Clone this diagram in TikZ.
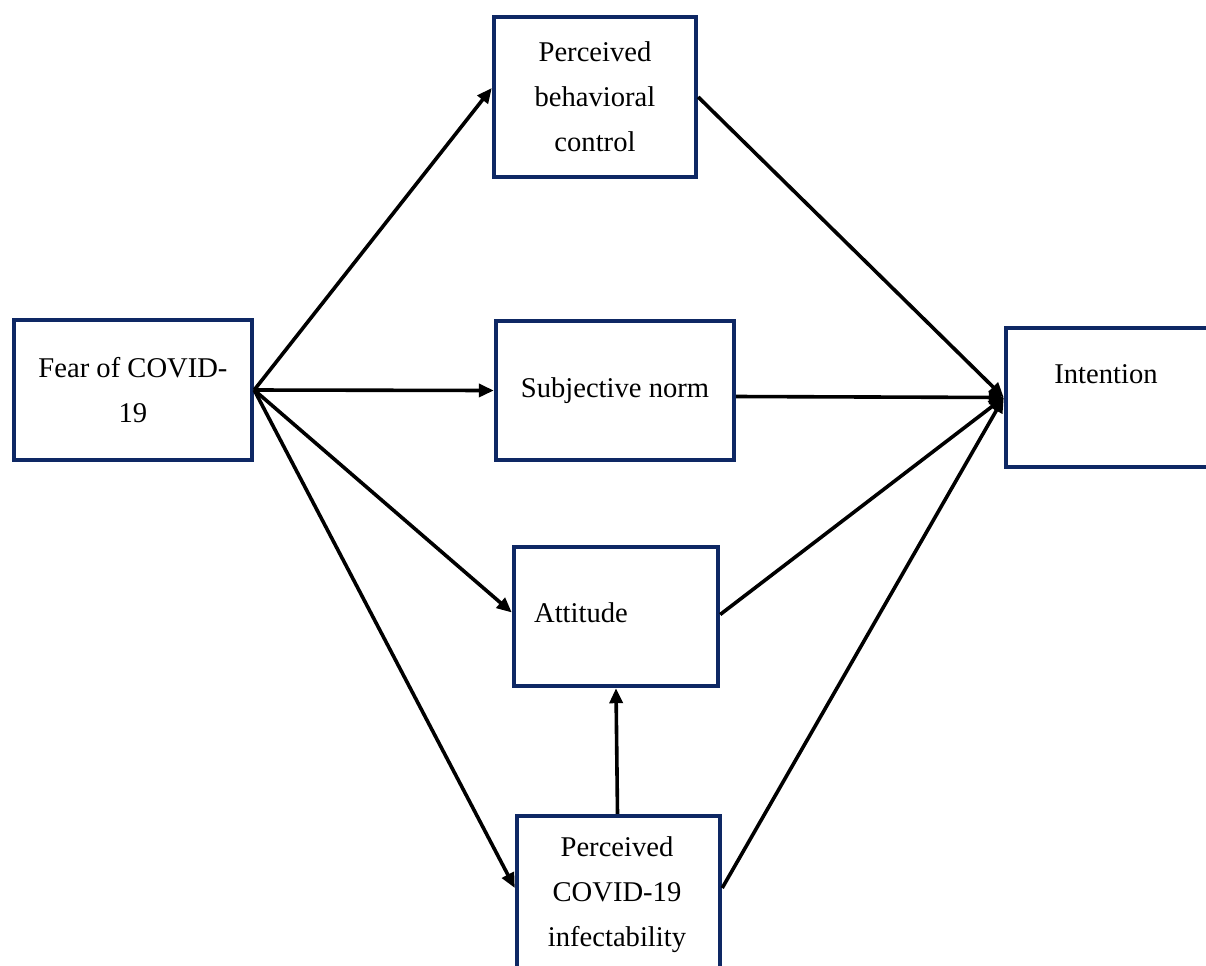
\documentclass[tikz,border=0pt]{standalone}
\usepackage{fontspec}
\setmainfont{Liberation Serif}
\usetikzlibrary{arrows.meta}
\definecolor{boxblue}{RGB}{14,40,100}
\begin{document}
\begin{tikzpicture}[x=0.5pt,y=-0.5pt,
  box/.style={draw=boxblue,line width=2.2pt,fill=white,inner sep=0pt,
    align=center,font=\fontsize{14.3}{22.5}\selectfont},
  lbl/.style={inner sep=0pt,align=center,font=\fontsize{14.3}{22.5}\selectfont},
  arr/.style={line width=1.8pt,-{Triangle[length=7.5pt,width=6.5pt]}},
  ln/.style={line width=1.8pt}]
\useasboundingbox (0,0) rectangle (1206,965);
\clip (0,0) rectangle (1206,965);
\fill[white] (0,0) rectangle (1206,965);
\node[box,minimum width=101pt,minimum height=80pt] (pbc) at (595,97) {Perceived\\behavioral\\control};
\node[box,minimum width=119pt,minimum height=70pt] (fear) at (133,390) {Fear of COVID-\\19};
\node[box,minimum width=119pt,minimum height=69.5pt] (sn) at (615,390.5) {Subjective norm};
\node[box,minimum width=117pt,minimum height=69.5pt] (int) at (1123,397.5) {};
\node[lbl] (intT) at (1106,374) {Intention};
\node[box,minimum width=102pt,minimum height=69.5pt] (att) at (616,616.5) {};
\node[lbl] (attT) at (581,613) {Attitude};
\node[box,minimum width=101.5pt,minimum height=92pt] (pci) at (618.5,908) {};
\node[lbl] (pciT) at (617,895) {Perceived\\COVID-19\\infectability};
% arrows from Fear
\draw[arr] (fear.east) -- ([yshift=4.5pt]pbc.west);
\draw[arr] (fear.east) -- (sn.west);
\draw[arr] (fear.east) -- ([yshift=2pt]att.west);
\draw[arr] (fear.east) -- ([yshift=10pt]pci.west);
% to Intention
\draw[arr] (pbc.east) -- (int.west);
\draw[arr] ([yshift=-3pt]sn.east) -- (int.west);
\draw[arr] ([yshift=1pt]att.east) -- (int.west);
\draw[arr] ([yshift=10pt]pci.east) -- (int.west);
% PCI to Attitude
\draw[arr] ([xshift=-0.5pt]pci.north) -- (att.south);
\end{tikzpicture}
\end{document}
